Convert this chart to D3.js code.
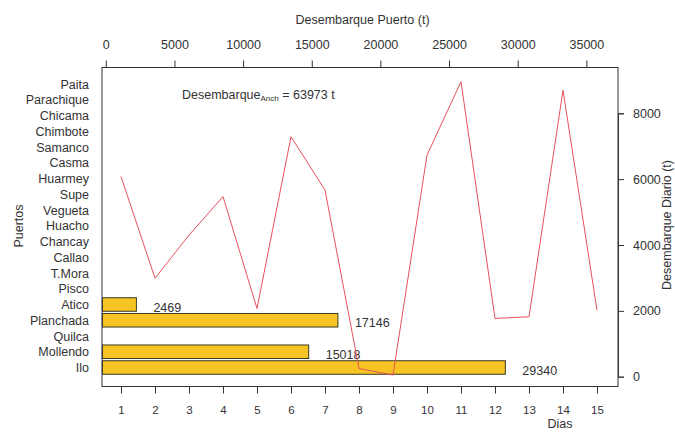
<!DOCTYPE html>
<html>
<head>
<meta charset="utf-8">
<script src="https://cdn.jsdelivr.net/npm/d3@7"></script>
<style>
  html, body { margin: 0; padding: 0; background: #fff; }
  svg { display: block; }
  text { font-family: "Liberation Sans", Arial, sans-serif; fill: #333; }
</style>
</head>
<body>
<svg id="chart" width="675" height="433"></svg>
<script>
// Ports, bottom to top
const ports = ["Ilo", "Mollendo", "Quilca", "Planchada", "Atico", "Pisco", "T.Mora", "Callao",
  "Chancay", "Huacho", "Vegueta", "Supe", "Huarmey", "Casma", "Samanco", "Chimbote",
  "Chicama", "Parachique", "Paita"];
// Landings per port (t); ports without value have no bar
const portLandings = [29340, 15018, null, 17146, 2469, null, null, null,
  null, null, null, null, null, null, null, null, null, null, null];
// Daily landings
const days = [1, 2, 3, 4, 5, 6, 7, 8, 9, 10, 11, 12, 13, 14, 15];
const dailyLandings = [6080, 2990, 4300, 5470, 2070, 7290, 5670, 250, 50, 6730, 8960, 1770, 1820, 8700, 2020];
// Tick values
const topTicks = [0, 5000, 10000, 15000, 20000, 25000, 30000, 35000];
const rightTicks = [0, 2000, 4000, 6000, 8000];
const totalLabel = "63973 t";

const svg = d3.select("#chart");
const box = { left: 102, right: 618, top: 67.5, bottom: 386.5 };
const FS = "12.5px";

// Scales
const xBar = d3.scaleLinear().domain([0, 35000]).range([102.5, 102.5 + 35000 * 0.01373]);
const xTopAxis = d3.scaleLinear().domain([0, 35000]).range([105.8, 105.8 + 35000 * 0.01373]);
const yPort = d3.scalePoint().domain(ports).range([367.5, 84]);
const barH = yPort.step() * 0.86;
const xDay = d3.scaleLinear().domain([1, 15]).range([121, 597]);
const yDay = d3.scaleLinear().domain([0, 8000]).range([376.7, 113.3]);

// Bars
const barData = ports.map((p, i) => ({ port: p, v: portLandings[i] })).filter(d => d.v != null);
svg.append("g").selectAll("rect").data(barData).join("rect")
  .attr("x", xBar(0))
  .attr("y", d => yPort(d.port) - barH / 2)
  .attr("width", d => xBar(d.v) - xBar(0))
  .attr("height", barH)
  .attr("fill", "#f6c423")
  .attr("stroke", "#3a3a2a")
  .attr("stroke-width", 1);

svg.append("g").selectAll("text").data(barData).join("text")
  .attr("x", d => xBar(d.v) + 17)
  .attr("y", d => yPort(d.port) + 3)
  .attr("dominant-baseline", "central")
  .style("font-size", FS)
  .text(d => d.v);

// Line of daily landings
const line = d3.line().x((d, i) => xDay(days[i])).y(d => yDay(d));
svg.append("path")
  .datum(dailyLandings)
  .attr("d", line)
  .attr("fill", "none")
  .attr("stroke", "#e8505c")
  .attr("stroke-width", 1);

// Plot box
svg.append("rect")
  .attr("x", box.left).attr("y", box.top)
  .attr("width", box.right - box.left).attr("height", box.bottom - box.top)
  .attr("fill", "none").attr("stroke", "#333").attr("stroke-width", 1);

// Top axis
const topAxis = svg.append("g").attr("transform", `translate(0,${box.top})`)
  .call(d3.axisTop(xTopAxis).tickValues(topTicks).tickSize(7).tickPadding(12).tickFormat(d3.format("d")));
topAxis.select(".domain").remove();
topAxis.selectAll("line").attr("stroke", "#333");
topAxis.selectAll("text").style("font-size", FS).attr("fill", "#333");

// Left port labels
const leftAxis = svg.append("g").attr("transform", `translate(${box.left},0)`)
  .call(d3.axisLeft(yPort).tickSize(0).tickPadding(13));
leftAxis.select(".domain").remove();
leftAxis.selectAll("text").style("font-size", FS).attr("fill", "#333");

// Bottom axis (days)
const bottomAxis = svg.append("g").attr("transform", `translate(0,${box.bottom})`)
  .call(d3.axisBottom(xDay).tickValues(days).tickSize(7).tickPadding(12).tickFormat(d3.format("d")));
bottomAxis.select(".domain").remove();
bottomAxis.selectAll("line").attr("stroke", "#333");
bottomAxis.selectAll("text").style("font-size", "11.5px").attr("fill", "#333");

// Right axis
const rightAxis = svg.append("g").attr("transform", `translate(${box.right},0)`)
  .call(d3.axisRight(yDay).tickValues(rightTicks).tickSize(6).tickPadding(9).tickFormat(d3.format("d")));
rightAxis.select(".domain").attr("stroke", "#333");
rightAxis.selectAll("line").attr("stroke", "#333");
rightAxis.selectAll("text").style("font-size", FS).attr("fill", "#333");

// Titles
svg.append("text").attr("x", 362.5).attr("y", 20).attr("text-anchor", "middle")
  .attr("dominant-baseline", "central").style("font-size", FS).text("Desembarque Puerto (t)");
svg.append("text").attr("transform", "translate(19,226) rotate(-90)").attr("text-anchor", "middle")
  .attr("dominant-baseline", "central").style("font-size", FS).text("Puertos");
svg.append("text").attr("transform", "translate(667,225) rotate(-90)").attr("text-anchor", "middle")
  .attr("dominant-baseline", "central").style("font-size", FS).text("Desembarque Diario (t)");
svg.append("text").attr("x", 560).attr("y", 424).attr("text-anchor", "middle")
  .attr("dominant-baseline", "central").style("font-size", FS).text("Dias");

// Annotation
const ann = svg.append("text").attr("x", 182).attr("y", 95).attr("dominant-baseline", "central").style("font-size", FS);
ann.append("tspan").text("Desembarque");
ann.append("tspan").attr("dy", 3).style("font-size", "8px").text("Anch");
ann.append("tspan").attr("dy", -3).text(" = " + totalLabel);
</script>
</body>
</html>
